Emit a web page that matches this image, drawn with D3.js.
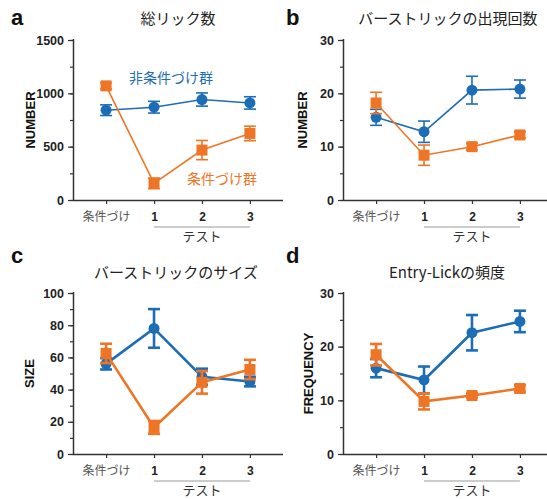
<!DOCTYPE html>
<html>
<head>
<meta charset="utf-8">
<script src="https://cdn.jsdelivr.net/npm/d3@7"></script>
<style>
  body { margin: 0; background: #fff; }
  svg { display: block; }
  text { font-family: "Liberation Sans", Arial, sans-serif; }
  .jp { font-family: "Noto Sans CJK JP", "Noto Sans", sans-serif; }
</style>
</head>
<body>
<div id="chart"></div>
<script>
// categories on the x axis
const categories = ['条件づけ', '1', '2', '3'];

// panel a: total licks
const aBlue = [842, 870, 942, 910];
const aBlueErr = [50, 55, 62, 58];
const aOrange = [1070, 156, 468, 624];
const aOrangeErr = [30, 50, 90, 68];

// panel b: burst count
const bBlue = [15.5, 12.8, 20.6, 20.8];
const bBlueErr = [1.5, 2.0, 2.6, 1.7];
const bOrange = [18.2, 8.4, 10.0, 12.2];
const bOrangeErr = [2.0, 1.9, 0.6, 0.6];

// panel c: burst size
const cBlue = [56, 78, 48, 45];
const cBlueErr = [3.5, 12, 5, 3];
const cOrange = [62.5, 16.5, 44.5, 52.5];
const cOrangeErr = [6, 4, 7, 6];

// panel d: entry-lick frequency
const dBlue = [16, 13.8, 22.6, 24.7];
const dBlueErr = [1.7, 2.5, 3.3, 2.0];
const dOrange = [18.5, 9.8, 10.9, 12.2];
const dOrangeErr = [2.0, 1.5, 0.4, 0.6];

const BLUE = '#1c6db6';
const ORANGE = '#ef7526';
const AXIS = '#333';

const svg = d3.select('#chart').append('svg')
  .attr('width', 547)
  .attr('height', 499);

const panels = [
  { letter: 'a', title: '総リック数', ylabel: 'NUMBER', x0: 73, top: 40, bottom: 200,
    max: 1500, major: 500, minor: 250, blue: aBlue, blueErr: aBlueErr,
    orange: aOrange, orangeErr: aOrangeErr, lw: 1.6,
    letterPos: [11, 25], titlePos: [178, 24], ylabelX: 30 },
  { letter: 'b', title: 'バーストリックの出現回数', ylabel: 'NUMBER', x0: 343, top: 40, bottom: 200,
    max: 30, major: 10, minor: 5, blue: bBlue, blueErr: bBlueErr,
    orange: bOrange, orangeErr: bOrangeErr, lw: 1.6,
    letterPos: [286, 25], titlePos: [448, 24], ylabelX: 302 },
  { letter: 'c', title: 'バーストリックのサイズ', ylabel: 'SIZE', x0: 73, top: 293, bottom: 454,
    max: 100, major: 20, minor: 10, blue: cBlue, blueErr: cBlueErr,
    orange: cOrange, orangeErr: cOrangeErr, lw: 2.6,
    letterPos: [11, 263], titlePos: [176, 278], ylabelX: 29 },
  { letter: 'd', title: 'Entry-Lickの頻度', ylabel: 'FREQUENCY', x0: 343, top: 293, bottom: 454,
    max: 30, major: 10, minor: 5, blue: dBlue, blueErr: dBlueErr,
    orange: dOrange, orangeErr: dOrangeErr, lw: 2.6,
    letterPos: [286, 263], titlePos: [447, 278], ylabelX: 308 }
];

panels.forEach(drawPanel);

// group labels in panel a
svg.append('text').attr('class', 'jp')
  .attr('x', 171).attr('y', 83)
  .attr('text-anchor', 'middle')
  .attr('font-size', 14)
  .attr('fill', BLUE)
  .text('非条件づけ群');
svg.append('text').attr('class', 'jp')
  .attr('x', 222).attr('y', 184)
  .attr('text-anchor', 'middle')
  .attr('font-size', 14)
  .attr('fill', ORANGE)
  .text('条件づけ群');

function drawPanel(p) {
  const g = svg.append('g');

  const x = d3.scalePoint()
    .domain(categories)
    .range([p.x0, p.x0 + 210])
    .padding(0.69);

  const y = d3.scaleLinear()
    .domain([0, p.max])
    .range([p.bottom, p.top]);

  // panel letter + title
  g.append('text')
    .attr('x', p.letterPos[0]).attr('y', p.letterPos[1])
    .attr('font-size', 22)
    .attr('font-weight', 'bold')
    .attr('fill', '#111')
    .text(p.letter);

  g.append('text').attr('class', 'jp')
    .attr('x', p.titlePos[0]).attr('y', p.titlePos[1])
    .attr('text-anchor', 'middle')
    .attr('font-size', 15)
    .attr('fill', '#222')
    .text(p.title);

  // y axis, minor ticks first then major with labels
  const minorTicks = d3.range(0, p.max + 0.001, p.minor);
  g.append('g')
    .attr('transform', `translate(${p.x0},0)`)
    .call(d3.axisLeft(y).tickValues(minorTicks).tickSize(3).tickFormat(''))
    .call(a => a.select('.domain').remove())
    .call(a => a.selectAll('line').attr('stroke', AXIS).attr('stroke-width', 1.2));

  const yAxis = g.append('g')
    .attr('transform', `translate(${p.x0},0)`)
    .call(d3.axisLeft(y)
      .tickValues(d3.range(0, p.max + 0.001, p.major))
      .tickFormat(d3.format('d'))
      .tickSize(5).tickPadding(4));
  yAxis.select('.domain')
    .attr('d', `M0.5,${p.top - 1}V${p.bottom}`)
    .attr('stroke', AXIS).attr('stroke-width', 1.5);
  yAxis.selectAll('line').attr('stroke', AXIS).attr('stroke-width', 1.2);
  yAxis.selectAll('text')
    .attr('font-size', 12.5)
    .attr('font-weight', 'bold')
    .attr('fill', '#222');

  // x axis
  const xAxis = g.append('g')
    .attr('transform', `translate(0,${p.bottom})`)
    .call(d3.axisBottom(x).tickSize(4).tickPadding(8));
  xAxis.select('.domain')
    .attr('d', `M${p.x0},0.5H${p.x0 + 210}`)
    .attr('stroke', AXIS).attr('stroke-width', 1.5);
  xAxis.selectAll('line').attr('stroke', AXIS).attr('stroke-width', 1.2);
  xAxis.selectAll('text')
    .attr('font-size', 12)
    .attr('fill', d => d === categories[0] ? '#555' : '#222')
    .attr('font-weight', d => d === categories[0] ? 'normal' : 'bold')
    .attr('class', d => d === categories[0] ? 'jp' : null);

  // テスト bracket
  g.append('line')
    .attr('x1', x('1')).attr('x2', x('3'))
    .attr('y1', p.bottom + 27).attr('y2', p.bottom + 27)
    .attr('stroke', '#999').attr('stroke-width', 1);
  g.append('text').attr('class', 'jp')
    .attr('x', x('2')).attr('y', p.bottom + 41)
    .attr('text-anchor', 'middle')
    .attr('font-size', 13)
    .attr('fill', '#333')
    .text('テスト');

  // y label
  g.append('text')
    .attr('transform', `translate(${p.ylabelX},${(p.top + p.bottom) / 2}) rotate(-90)`)
    .attr('text-anchor', 'middle')
    .attr('dy', '0.35em')
    .attr('font-size', 13)
    .attr('font-weight', 'bold')
    .attr('fill', '#111')
    .text(p.ylabel);

  // series
  drawSeries(g, x, y, p.blue, p.blueErr, BLUE, 'circle', p.lw);
  drawSeries(g, x, y, p.orange, p.orangeErr, ORANGE, 'square', p.lw);
}

function drawSeries(g, x, y, vals, errs, color, shape, lw) {
  const pts = categories.map((c, i) => ({ c, v: vals[i], e: errs[i] }));

  g.append('path')
    .datum(pts)
    .attr('fill', 'none')
    .attr('stroke', color)
    .attr('stroke-width', lw)
    .attr('d', d3.line().x(d => x(d.c)).y(d => y(d.v)));

  const eb = g.append('g').selectAll('g')
    .data(pts)
    .join('g')
    .attr('stroke', color)
    .attr('stroke-width', lw);
  eb.append('line')
    .attr('x1', d => x(d.c)).attr('x2', d => x(d.c))
    .attr('y1', d => y(d.v - d.e)).attr('y2', d => y(d.v + d.e));
  eb.append('line')
    .attr('x1', d => x(d.c) - 6).attr('x2', d => x(d.c) + 6)
    .attr('y1', d => y(d.v + d.e)).attr('y2', d => y(d.v + d.e));
  eb.append('line')
    .attr('x1', d => x(d.c) - 6).attr('x2', d => x(d.c) + 6)
    .attr('y1', d => y(d.v - d.e)).attr('y2', d => y(d.v - d.e));

  if (shape === 'circle') {
    g.append('g').selectAll('circle')
      .data(pts)
      .join('circle')
      .attr('cx', d => x(d.c))
      .attr('cy', d => y(d.v))
      .attr('r', 5.5)
      .attr('fill', color);
  } else {
    g.append('g').selectAll('rect')
      .data(pts)
      .join('rect')
      .attr('x', d => x(d.c) - 5.5)
      .attr('y', d => y(d.v) - 5.5)
      .attr('width', 11)
      .attr('height', 11)
      .attr('fill', color);
  }
}
</script>
</body>
</html>
